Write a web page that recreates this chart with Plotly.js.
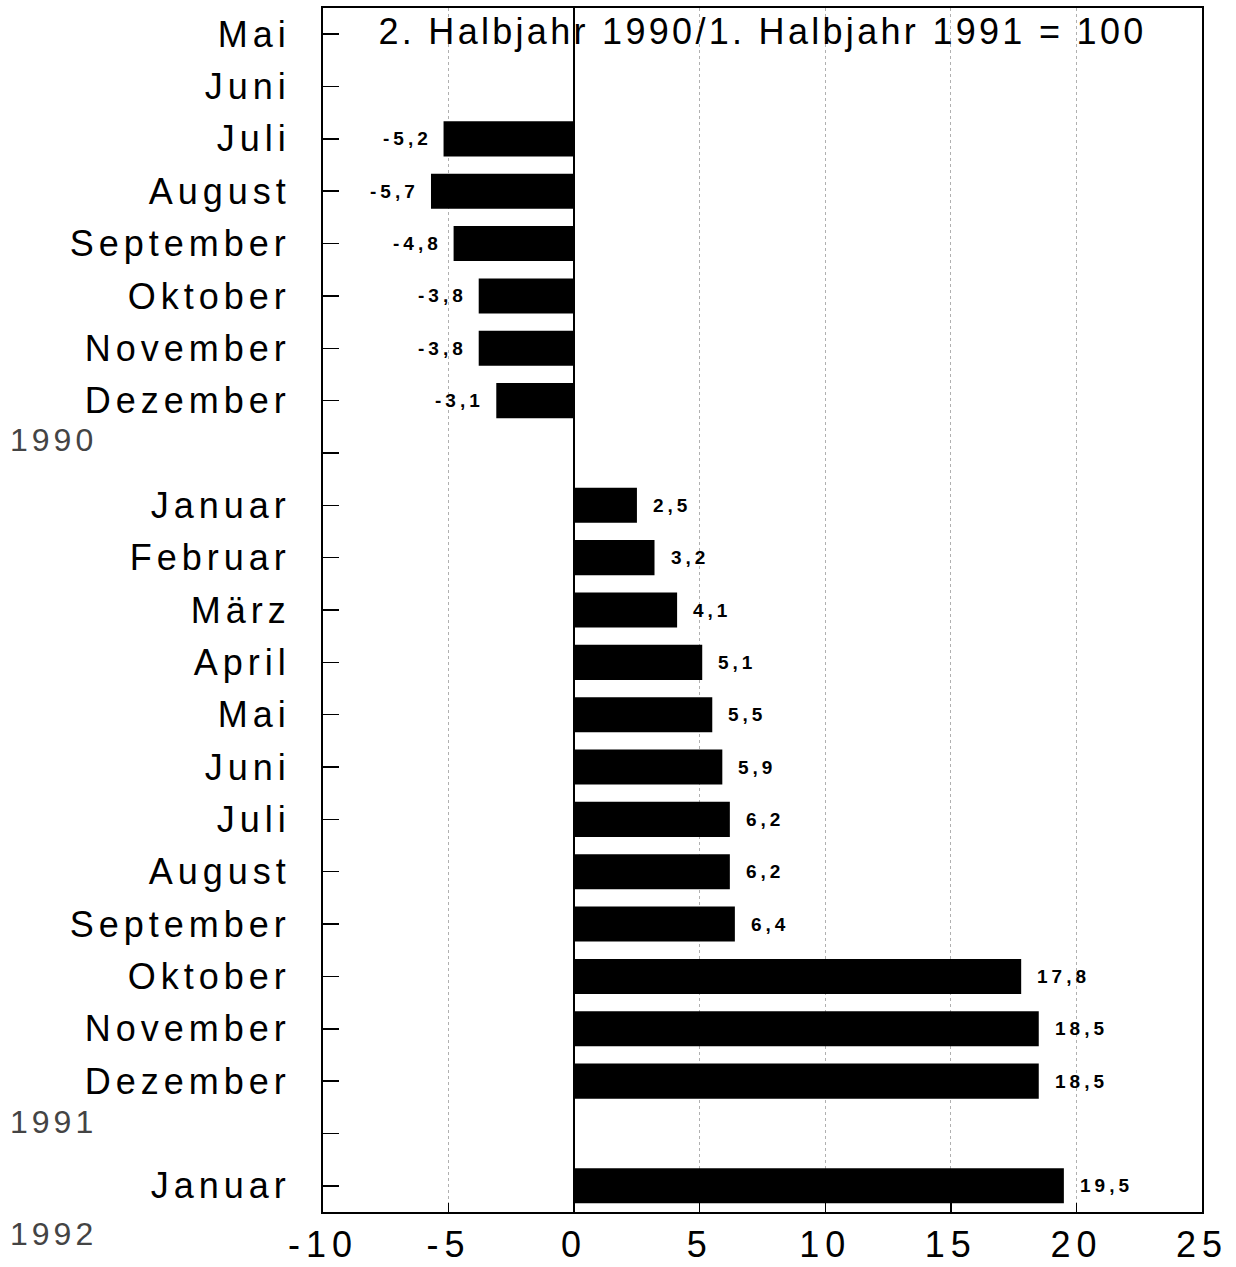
<!DOCTYPE html>
<html>
<head>
<meta charset="utf-8">
<script src="https://cdn.plot.ly/plotly-3.0.1.min.js"></script>
<style>
  body { margin: 0; padding: 0; background: #fff; }
  #chart { width: 1236px; height: 1267px; }
  .ytick text { letter-spacing: 5px; }
  .xtick text { letter-spacing: 6px; }
  .gtitle { letter-spacing: 3.3px; }
  .annotation-text { letter-spacing: 4px; }
</style>
</head>
<body>
<div id="chart"></div>
<script>
// Row labels (empty strings mark the year gaps)
const rowLabels = ["Mai","Juni","Juli","August","September","Oktober","November","Dezember","",
  "Januar","Februar","März","April","Mai","Juni","Juli","August","September","Oktober","November","Dezember","",
  "Januar"];
// Change in % vs. 2. Halbjahr 1990/1. Halbjahr 1991 = 100
const values = [null,null,-5.2,-5.7,-4.8,-3.8,-3.8,-3.1,null,
  2.5,3.2,4.1,5.1,5.5,5.9,6.2,6.2,6.4,17.8,18.5,18.5,null,
  19.5];
const xTickVals = [-10,-5,0,5,10,15,20,25];
const xTickLabels = ["-10","-5","0","5","10","15","20","25"];
const yearLabels = ["1990","1991","1992"];
const titleText = "2. Halbjahr 1990/1. Halbjahr 1991 = 100";

const rows = rowLabels.map((_, i) => i);
const fmt = v => v.toFixed(1).replace('.', ',');

const W = 1236, H = 1267;
const margin = {l: 323, r: 34, t: 8, b: 55};
const plotH = H - margin.t - margin.b;
const pyToPaper = py => 1 - (py - margin.t) / plotH;

const font = 'Liberation Sans, Arial, Helvetica, sans-serif';

const annotations = [];
values.forEach((v, i) => {
  if (v === null) return;
  annotations.push({
    x: v, y: i, xref: 'x', yref: 'y',
    text: fmt(v), showarrow: false,
    xanchor: v < 0 ? 'right' : 'left',
    yanchor: 'middle',
    xshift: v < 0 ? -10 : 14,
    font: {family: font, size: 19, color: '#000', weight: 'bold'}
  });
});
const yearPy = [440, 1122, 1234];
yearLabels.forEach((t, k) => {
  annotations.push({
    x: 0, xref: 'paper', xshift: -margin.l + 8,
    y: pyToPaper(yearPy[k]), yref: 'paper',
    text: t, showarrow: false, xanchor: 'left', yanchor: 'middle',
    font: {family: font, size: 32, color: '#444'}
  });
});

const trace = {
  type: 'bar', orientation: 'h',
  x: values, y: rows,
  marker: {color: '#000', line: {width: 0}},
  hoverinfo: 'none'
};

const layout = {
  width: W, height: H,
  margin: margin,
  paper_bgcolor: '#fff', plot_bgcolor: '#fff',
  bargap: 0.33,
  showlegend: false,
  title: {
    text: titleText,
    x: 0.5, xref: 'paper', xanchor: 'center',
    y: 1 - 31 / H, yref: 'container', yanchor: 'middle',
    font: {family: font, size: 36, color: '#000'}
  },
  xaxis: {
    range: [-10, 25],
    tickmode: 'array', tickvals: xTickVals, ticktext: xTickLabels,
    ticks: 'inside', ticklen: 9, tickwidth: 1.5, tickcolor: '#000',
    showgrid: true, gridcolor: '#b0b0b0', griddash: 'dot', gridwidth: 1,
    zeroline: true, zerolinecolor: '#000', zerolinewidth: 1.5,
    showline: true, linecolor: '#000', linewidth: 2, mirror: true,
    tickfont: {family: font, size: 36, color: '#000'},
    ticklabelstandoff: 0,
    fixedrange: true
  },
  yaxis: {
    range: [22.5, -0.5],
    tickmode: 'array', tickvals: rows, ticktext: rowLabels,
    ticks: 'inside', ticklen: 16, tickwidth: 1.5, tickcolor: '#000',
    showgrid: false, zeroline: false,
    showline: true, linecolor: '#000', linewidth: 2, mirror: true,
    tickfont: {family: font, size: 36, color: '#000'},
    ticklabelstandoff: 23,
    fixedrange: true
  },
  annotations: annotations
};

Plotly.newPlot('chart', [trace], layout, {displayModeBar: false, staticPlot: true});
</script>
</body>
</html>
